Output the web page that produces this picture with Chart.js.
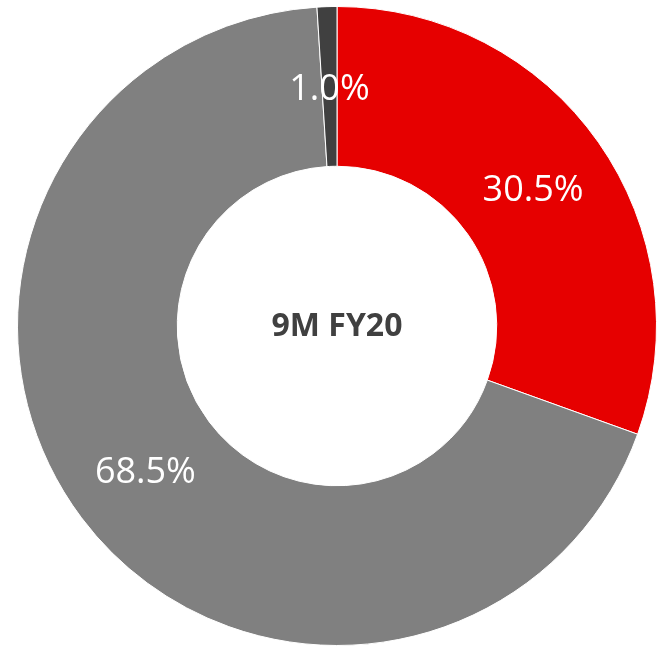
<!DOCTYPE html>
<html>
<head>
<meta charset="utf-8">
<script src="https://cdn.jsdelivr.net/npm/chart.js@4"></script>
<style>
  html, body { margin: 0; padding: 0; background: #fff; }
  #wrap { width: 663px; height: 646px; }
</style>
</head>
<body>
<div id="wrap"><canvas id="chart"></canvas></div>
<script>
// slices go clockwise from 12 o'clock
const labels = ['Red', 'Grey', 'Dark'];
const shares = [30.5, 68.5, 1.0];
const colors = ['#e60000', '#808080', '#404040'];
const centerTitle = '9M FY20';

// white % text sitting in the middle of each ring segment
const sliceLabels = {
  id: 'sliceLabels',
  afterDatasetsDraw(chart) {
    const ctx = chart.ctx;
    const meta = chart.getDatasetMeta(0);
    ctx.save();
    ctx.fillStyle = '#ffffff';
    ctx.font = '36px "Open Sans"';
    ctx.textAlign = 'center';
    ctx.textBaseline = 'middle';
    meta.data.forEach((arc, i) => {
      const p = arc.getCenterPoint();
      ctx.fillText(shares[i].toFixed(1) + '%', p.x, p.y + 3);
    });
    ctx.restore();
  }
};

const centerText = {
  id: 'centerText',
  afterDraw(chart) {
    const ctx = chart.ctx;
    const arc = chart.getDatasetMeta(0).data[0];
    ctx.save();
    ctx.fillStyle = '#404040';
    ctx.font = 'bold 32px "Open Sans"';
    ctx.textAlign = 'center';
    ctx.textBaseline = 'middle';
    ctx.fillText(centerTitle, arc.x, arc.y + 1);
    ctx.restore();
  }
};

new Chart(document.getElementById('chart'), {
  type: 'doughnut',
  data: {
    labels: labels,
    datasets: [{
      data: shares,
      backgroundColor: colors,
      borderColor: '#ffffff',
      borderWidth: 1
    }]
  },
  options: {
    responsive: true,
    maintainAspectRatio: false,
    animation: false,
    cutout: '50%',
    layout: { padding: { left: 11, right: 0, top: 6, bottom: 0 } },
    plugins: {
      legend: { display: false },
      tooltip: { enabled: false }
    }
  },
  plugins: [sliceLabels, centerText]
});
</script>
</body>
</html>
